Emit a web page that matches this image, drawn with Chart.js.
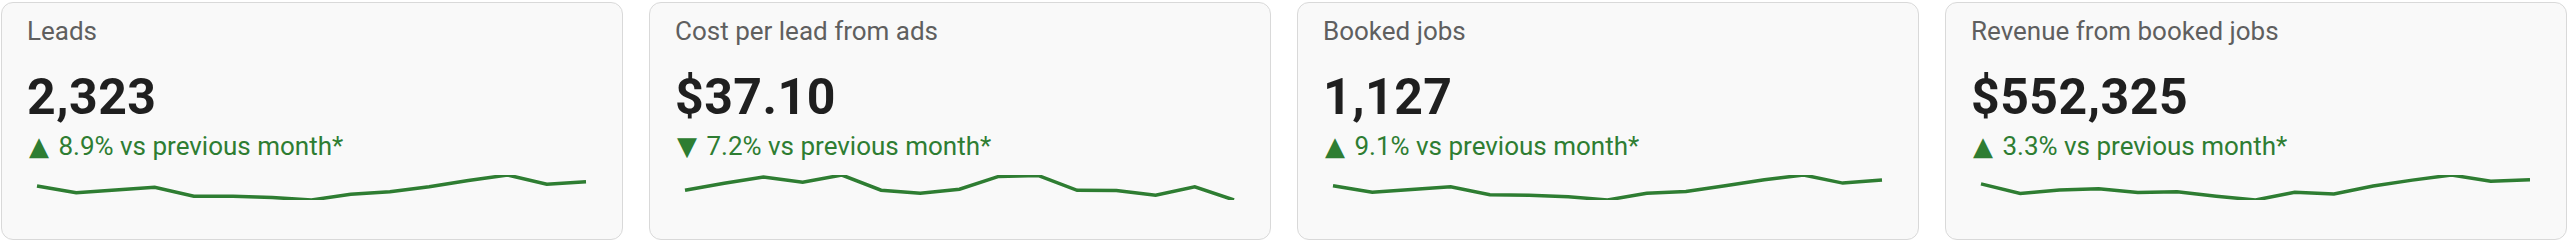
<!DOCTYPE html>
<html>
<head>
<meta charset="utf-8">
<script src="https://cdn.jsdelivr.net/npm/chart.js@4.4.1/dist/chart.umd.min.js"></script>
<style>
    html, body {
        margin: 0;
        padding: 0;
        background: #ffffff;
        width: 2568px;
        height: 242px;
        overflow: hidden;
        font-family: 'Roboto', 'DejaVu Sans', sans-serif;
    }
    .row {
        display: flex;
        gap: 26px;
        padding: 2px 0 0 1px;
    }
    .card {
        position: relative;
        box-sizing: border-box;
        width: 622px;
        height: 238px;
        border: 1.5px solid #d9d9d9;
        border-radius: 12px;
        background: #f9f9f9;
    }
    .card-title {
        position: absolute;
        left: 25px;
        top: 15px;
        font-size: 26px;
        line-height: 1;
        color: #5f5f5f;
        white-space: nowrap;
    }
    .card-value {
        position: absolute;
        left: 25px;
        top: 69px;
        font-size: 50px;
        font-weight: 700;
        line-height: 1;
        color: #1f1f1f;
        letter-spacing: 0.5px;
        white-space: nowrap;
    }
    .card-change {
        position: absolute;
        left: 27px;
        top: 130px;
        font-size: 26px;
        line-height: 1;
        color: #2e7d32;
        white-space: nowrap;
    }
    .card-change .arrow {
        margin-right: 3px;
    }
    .card canvas {
        position: absolute;
        left: 0;
        top: 157px;
    }
</style>
</head>
<body>
<div class="row" id="row"></div>

<script>
// 15 periods shown in every sparkline
const periods = ['Jan', 'Feb', 'Mar', 'Apr', 'May', 'Jun', 'Jul', 'Aug', 'Sep', 'Oct', 'Nov', 'Dec', 'Jan', 'Feb', 'Mar'];

const leads = [2243, 2109, 2163, 2217, 2043, 2040, 2017, 1969, 2083, 2129, 2229, 2349, 2457, 2277, 2323];
const costPerLead = [39.42, 41.10, 42.60, 41.35, 43.10, 39.45, 38.75, 39.68, 42.75, 43.00, 39.42, 39.40, 38.25, 40.25, 37.10];
const bookedJobs = [1070, 1007, 1033, 1060, 982, 978, 963, 930, 997, 1013, 1070, 1130, 1177, 1097, 1127];
const revenue = [536300, 499100, 512300, 517500, 503100, 505500, 488300, 473500, 503500, 497100, 528300, 551100, 571100, 546300, 552325];

const cardTitles = ['Leads', 'Cost per lead from ads', 'Booked jobs', 'Revenue from booked jobs'];
const cardValues = ['2,323', '$37.10', '1,127', '$552,325'];
const cardArrows = ['▲', '▼', '▲', '▲'];
const cardChanges = ['8.9% vs previous month*', '7.2% vs previous month*', '9.1% vs previous month*', '3.3% vs previous month*'];
const cardSeries = [leads, costPerLead, bookedJobs, revenue];

document.addEventListener('DOMContentLoaded', function() {
    const row = document.getElementById('row');

    cardTitles.forEach(function(title, i) {
        const card = document.createElement('div');
        card.className = 'card';
        card.innerHTML =
            '<div class="card-title">' + title + '</div>' +
            '<div class="card-value">' + cardValues[i] + '</div>' +
            '<div class="card-change"><span class="arrow">' + cardArrows[i] + '</span> ' + cardChanges[i] + '</div>' +
            '<canvas id="spark' + i + '" width="619" height="60"></canvas>';
        row.appendChild(card);
        drawSparkline('spark' + i, cardSeries[i]);
    });
});

function drawSparkline(canvasId, values) {
    const ctx = document.getElementById(canvasId).getContext('2d');

    new Chart(ctx, {
        type: 'line',
        data: {
            labels: periods,
            datasets: [{
                data: values,
                borderColor: '#2e7d32',
                borderWidth: 3.5,
                tension: 0,
                fill: false,
                pointRadius: 0
            }]
        },
        options: {
            responsive: false,
            animation: false,
            events: [],
            layout: {
                padding: { left: 35, right: 35, top: 15, bottom: 20 }
            },
            plugins: {
                legend: { display: false },
                tooltip: { enabled: false }
            },
            scales: {
                x: { display: false },
                y: {
                    display: false,
                    min: Math.min(...values),
                    max: Math.max(...values)
                }
            }
        }
    });
}
</script>
</body>
</html>
